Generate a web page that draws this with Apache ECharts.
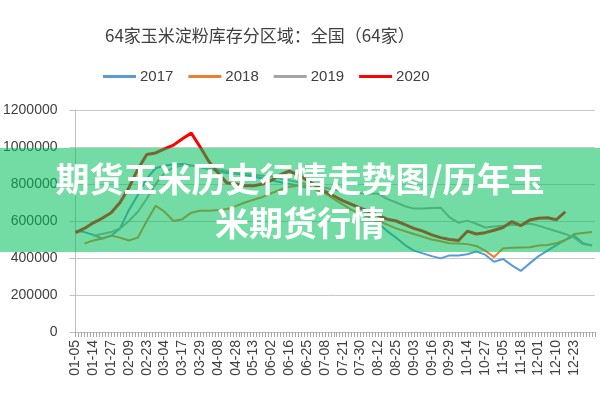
<!DOCTYPE html>
<html>
<head>
<meta charset="utf-8">
<script src="https://cdn.jsdelivr.net/npm/echarts@6/dist/echarts.min.js"></script>
<style>html,body{margin:0;padding:0;background:#fff}#c{width:600px;height:400px}</style>
</head>
<body>
<div id="c"></div>
<script>
// Tick labels shown on the category axis (one every 6 fine ticks)
const dateLabels = ['01-05','01-14','01-27','02-09','02-23','03-04','03-17','03-29','04-08','04-28','05-13','06-02','06-16','06-25','07-08','07-21','07-30','08-12','08-25','09-03','09-16','09-29','10-14','10-27','11-05','11-18','12-01','12-10','12-23'];
const yTicks = [0, 200000, 400000, 600000, 800000, 1000000, 1200000];
const seriesNames = ['2017','2018','2019','2020'];
// Values read at every half label step
const s2017 = [548000,540000,525000,505000,520000,560000,660000,740000,830000,885000,900000,905000,908000,900000,890000,880000,870000,860000,855000,850000,840000,830000,820000,810000,800000,790000,780000,770000,755000,735000,710000,690000,670000,625000,590000,545000,510000,470000,440000,425000,410000,398000,414000,414000,420000,435000,418000,380000,395000,360000,330000,371000,410000,440000,470000,498000,520000,480000,468000];
const s2018 = [null,478000,495000,505000,521000,510000,495000,510000,600000,683000,650000,600000,610000,645000,655000,656000,660000,665000,680000,700000,715000,730000,750000,770000,785000,790000,790000,770000,750000,720000,690000,660000,640000,620000,600000,580000,560000,545000,530000,515000,500000,490000,480000,478000,475000,465000,440000,405000,452000,455000,457000,458000,468000,470000,480000,497000,530000,535000,540000];
const s2019 = [null,null,520000,530000,540000,560000,600000,650000,720000,800000,860000,890000,900000,900000,895000,885000,880000,870000,860000,855000,850000,845000,840000,830000,820000,810000,800000,790000,780000,770000,760000,755000,750000,748000,747000,720000,700000,680000,667000,668000,670000,672000,620000,591000,602000,585000,565000,570000,575000,578000,580000,586000,575000,559000,545000,530000,510000,475000,468000];
const s2020 = [537000,560000,590000,615000,645000,700000,780000,880000,960000,968000,990000,1010000,1045000,1075000,1000000,920000,860000,805000,800000,790000,790000,800000,820000,850000,870000,850000,820000,790000,760000,735000,710000,690000,670000,650000,630000,610000,600000,580000,560000,545000,525000,510000,500000,495000,545000,530000,537000,550000,565000,597000,575000,605000,615000,618000,607000,650000,null,null,null];
const colors = ['#5b9bd5','#ed7d31','#a5a5a5','#ff0000'];

// build full category list: each label followed by 5 unlabeled ticks
const STEP = 6;
const cats = [];
dateLabels.forEach(l => { cats.push(l); for (let k = 1; k < STEP; k++) cats.push(''); });
cats.push(''); cats.push('');
function expand(arr) {
  const out = new Array(cats.length).fill(null);
  arr.forEach((v, j) => { out[j * STEP / 2] = v; });
  return out;
}
const all = [s2017, s2018, s2019, s2020];

const chart = echarts.init(document.getElementById('c'));
chart.setOption({
  animation: false,
  title: {
    text: '64家玉米淀粉库存分区域：全国（64家）',
    left: 100, top: 22,
    textStyle: { fontFamily: 'Noto Sans CJK SC', fontWeight: 'normal', fontSize: 17, color: '#404040' }
  },
  legend: {
    left: 98, top: 64,
    itemWidth: 33, itemHeight: 3, itemGap: 15,
    icon: 'rect',
    textStyle: { fontFamily: 'Liberation Sans', fontSize: 15, color: '#404040', padding: [0,0,0,-1] },
    data: seriesNames
  },
  grid: { left: 73, right: 5, top: 110, bottom: 68 },
  xAxis: {
    type: 'category', data: cats, boundaryGap: false,
    axisLine: { lineStyle: { color: '#bfbfbf' } },
    axisTick: { show: true, interval: 0, length: 5, lineStyle: { color: '#a6a6a6' } },
    axisLabel: { interval: STEP - 1, rotate: 90, fontFamily: 'Liberation Sans', fontSize: 14, color: '#404040', margin: 8 }
  },
  yAxis: {
    type: 'value', min: yTicks[0], max: yTicks[yTicks.length-1], interval: yTicks[1] - yTicks[0],
    axisLine: { show: true, lineStyle: { color: '#bfbfbf' } },
    axisTick: { show: true, length: 6, lineStyle: { color: '#bfbfbf' } },
    splitLine: { lineStyle: { color: '#c8c8c8' } },
    axisLabel: { fontFamily: 'Liberation Sans', fontSize: 14, color: '#404040', margin: 18, formatter: v => String(v) }
  },
  series: seriesNames.map((n, i) => ({
    name: n, type: 'line', data: expand(all[i]), connectNulls: true,
    symbol: 'none', smooth: false,
    lineStyle: { color: colors[i], width: i === 3 ? 3 : 2 },
    itemStyle: { color: colors[i] }
  })),
  graphic: [
    { type: 'rect', left: 0, top: 148, shape: { width: 600, height: 104 }, style: { fill: 'rgba(0,189,89,0.55)' }, z: 100 },
    { type: 'text', x: 300, y: 179, z: 101, style: { text: '期货玉米历史行情走势图/历年玉', fill: '#ffffff', font: 'bold 34px "Noto Sans CJK SC"', textAlign: 'center', textVerticalAlign: 'middle' } },
    { type: 'text', x: 300, y: 223, z: 101, style: { text: '米期货行情', fill: '#ffffff', font: 'bold 34px "Noto Sans CJK SC"', textAlign: 'center', textVerticalAlign: 'middle' } }
  ]
});
</script>
</body>
</html>
